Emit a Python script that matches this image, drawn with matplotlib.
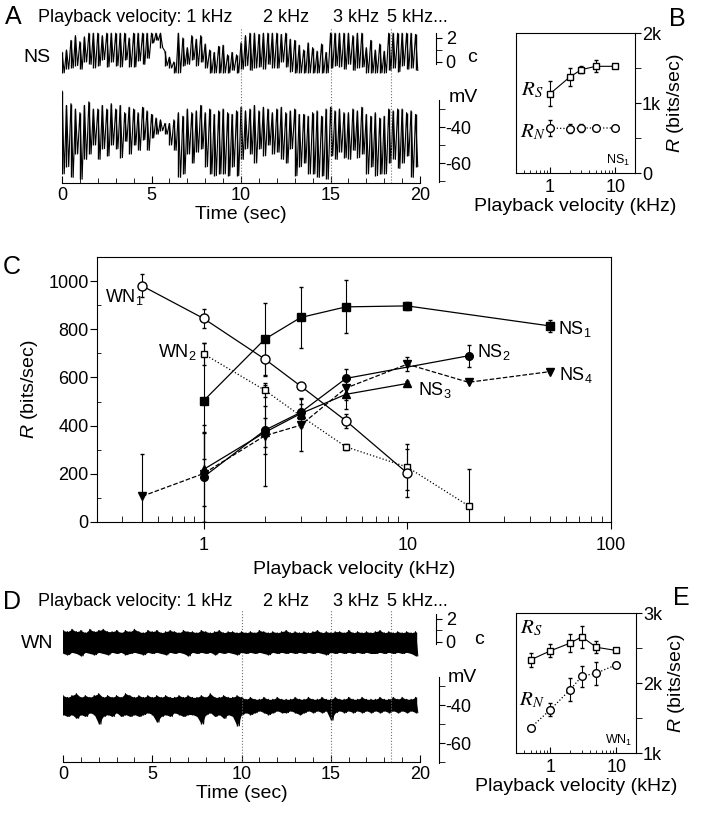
import numpy as np
import matplotlib
matplotlib.use('Agg')
import matplotlib.pyplot as plt
from matplotlib.ticker import FixedLocator, MultipleLocator, NullFormatter, LogLocator

# ---- datos: trazas (max / min por intervalo de 0.25 s) ----
BIN_SEC = 0.25
cambios_t = [10, 15, 18.4]   # cambios de velocidad de reproduccion (s)

ns_c_hi = [0.8, 1.0, 1.8, 2.2, 1.7, 2.1, 2.4, 2.4, 2.4, 2.2,
           2.4, 2.4, 2.4, 2.4, 2.4, 2.0, 2.4, 2.4, 2.4, 2.4,
           2.4, 2.4, 2.4, 0.9, 0.4, 0.0, 2.4, 2.0, 1.2, 2.2,
           1.9, 2.2, 1.5, 1.0, 0.8, 1.3, 1.4, 0.6, 0.8, 0.6,
           1.6, 2.2, 2.4, 2.4, 2.3, 2.4, 2.4, 2.4, 2.4, 2.3,
           2.4, 1.9, 1.8, 1.4, 1.0, 1.6, 1.2, 0.9, 1.5, 0.8,
           2.4, 2.4, 2.4, 2.4, 2.4, 2.2, 2.4, 2.4, 1.2, 1.8,
           1.0, 1.5, 0.9, 2.4, 2.4, 2.4, 2.4, 2.4, 2.4, 2.3]
ns_c_lo = [-0.9, -0.6, -0.5, -0.3, -0.6, 0.0, -0.2, -0.5, -0.3, 0.2,
           -0.4, 0.0, -0.3, -0.4, 0.2, -0.4, -0.4, 0.1, -0.2, 0.3,
           1.6, 1.8, 1.2, -0.3, -0.5, -0.9, -0.9, -0.3, -0.2, 0.2,
           -0.3, 0.0, -0.5, -0.9, -0.9, -0.9, -0.9, -0.9, -0.7, -0.9,
           -0.6, -0.3, -0.7, -0.5, -0.4, -0.6, -0.2, -0.5, -0.5, 0.0,
           -0.4, -0.8, -0.9, -0.9, -0.9, -0.9, -0.9, -0.9, -0.9, -0.9,
           -0.5, -0.3, -0.4, -0.6, -0.2, -0.7, -0.5, -0.4, -0.9, -0.9,
           -0.9, -0.9, -0.9, -0.7, -0.5, -0.8, -0.3, -0.6, -0.5, -0.7]
ns_mv_hi = [-20, -28, -27, -30, -32, -28, -26, -30, -30, -28,
            -30, -27, -30, -28, -32, -29, -30, -32, -29, -31,
            -33, -35, -36, -38, -38, -36, -32, -34, -30, -32,
            -31, -28, -32, -30, -33, -31, -30, -32, -33, -31,
            -29, -31, -30, -28, -31, -29, -30, -32, -30, -29,
            -32, -31, -30, -33, -33, -34, -32, -31, -34, -30,
            -29, -31, -30, -32, -32, -30, -31, -29, -33, -34,
            -32, -35, -34, -30, -31, -30, -30, -32, -31, -33]
ns_mv_lo = [-66, -62, -68, -55, -69, -58, -55, -50, -58, -52,
            -56, -50, -52, -57, -48, -55, -50, -53, -47, -53,
            -46, -44, -42, -44, -50, -53, -68, -66, -55, -60,
            -54, -52, -62, -66, -67, -66, -66, -67, -62, -67,
            -58, -52, -55, -60, -52, -56, -50, -55, -54, -58,
            -60, -52, -67, -62, -60, -66, -66, -68, -67, -69,
            -56, -58, -54, -57, -58, -53, -57, -55, -66, -62,
            -67, -66, -66, -60, -58, -63, -60, -56, -68, -62]

wn_c_hi = [1.0, 0.9, 1.1, 0.9, 1.0, 0.8, 1.1, 0.9, 1.0, 1.1,
           0.9, 0.9, 1.0, 0.8, 1.0, 0.9, 1.1, 0.9, 0.8, 1.0,
           0.9, 1.0, 0.8, 0.9, 1.0, 0.9, 0.8, 1.0, 0.9, 0.9,
           0.8, 1.0, 0.9, 0.8, 0.9, 1.0, 0.8, 0.9, 0.9, 0.8,
           0.9, 0.8, 0.9, 0.8, 1.0, 0.9, 0.8, 0.9, 0.8, 0.9,
           1.0, 0.8, 0.9, 0.8, 0.9, 0.8, 0.9, 1.0, 0.8, 0.9,
           0.8, 0.9, 0.9, 0.8, 1.0, 0.8, 0.9, 0.8, 0.9, 0.8,
           0.9, 1.0, 0.8, 0.9, 0.8, 0.9, 0.8, 0.9, 0.8, 0.9]
wn_c_lo = [-1.0, -1.1, -0.9, -1.0, -1.2, -0.9, -1.0, -1.1, -0.9, -1.0,
           -1.1, -0.9, -1.0, -0.9, -1.1, -1.0, -0.9, -1.0, -1.1, -0.9,
           -1.0, -0.9, -1.0, -1.1, -0.9, -1.0, -0.9, -1.0, -1.2, -0.9,
           -1.0, -0.9, -1.0, -0.9, -1.1, -0.9, -1.0, -0.9, -1.0, -1.1,
           -0.9, -1.0, -0.9, -1.0, -0.9, -1.0, -1.1, -0.9, -1.0, -0.9,
           -1.0, -0.9, -1.0, -0.9, -1.0, -0.9, -1.0, -0.9, -1.0, -1.1,
           -0.9, -1.0, -0.9, -1.0, -0.9, -1.0, -0.9, -1.0, -0.9, -1.0,
           -1.0, -0.9, -1.0, -0.9, -1.0, -0.9, -1.0, -0.9, -1.0, -1.2]
wn_mv_hi = [-35, -36, -35, -34, -36, -35, -36, -35, -34, -36,
            -35, -36, -35, -36, -34, -35, -36, -35, -36, -35,
            -36, -35, -36, -35, -36, -36, -35, -36, -35, -36,
            -36, -35, -36, -34, -36, -36, -35, -36, -36, -35,
            -36, -37, -36, -37, -37, -36, -37, -37, -36, -37,
            -37, -37, -36, -37, -37, -36, -37, -37, -36, -37,
            -37, -36, -37, -37, -36, -37, -37, -36, -37, -37,
            -37, -36, -37, -37, -36, -37, -36, -37, -37, -36]
wn_mv_lo = [-45, -46, -45, -47, -45, -46, -44, -45, -50, -46,
            -45, -46, -44, -46, -45, -46, -45, -46, -45, -44,
            -45, -49, -46, -45, -46, -44, -45, -46, -45, -45,
            -46, -50, -45, -44, -46, -45, -47, -45, -46, -51,
            -45, -44, -45, -44, -43, -44, -45, -44, -43, -44,
            -44, -43, -44, -45, -44, -43, -44, -43, -44, -43,
            -48, -44, -43, -44, -43, -44, -43, -44, -43, -44,
            -43, -44, -43, -44, -43, -44, -43, -44, -43, -44]

# ---- datos: tasas de informacion ----
vel_b = [1, 2, 3, 5, 10]
rs_b = [1133, 1371, 1476, 1524, 1524]
rs_b_err = [175, 135, 50, 85, 20]
rn_b = [643, 634, 643, 643, 643]
rn_b_err = [110, 65, 55, 0, 25]

vel_e = [0.5, 1, 2, 3, 5, 10]
rs_e = [2330, 2460, 2570, 2660, 2510, 2465]
rs_e_err = [95, 95, 130, 160, 85, 25]
rn_e = [1360, 1620, 1905, 2095, 2142, 2260]
rn_e_err = [20, 95, 165, 155, 165, 0]

vel_wn1 = [0.5, 1, 2, 3, 5, 10]
r_wn1 = [980, 845, 676, 564, 420, 203]
e_wn1 = [48, 40, 70, 0, 30, 100]
vel_wn2 = [1, 2, 3, 5, 10, 20]
r_wn2 = [698, 547, 440, 312, 228, 67]
e_wn2 = [45, 30, 0, 12, 97, 155]
vel_ns1 = [1, 2, 3, 5, 10, 50]
r_ns1 = [503, 759, 849, 893, 897, 814]
e_ns1 = [240, 150, 125, 110, 15, 25]
vel_ns2 = [1, 2, 3, 5, 20]
r_ns2 = [187, 381, 455, 596, 690]
e_ns2 = [185, 100, 60, 40, 45]
vel_ns3 = [1, 2, 3, 5, 10]
r_ns3 = [218, 372, 450, 530, 575]
e_ns3 = [150, 60, 40, 60, 10]
vel_ns4 = [0.5, 1, 2, 3, 5, 10, 20, 50]
r_ns4 = [107, 201, 358, 402, 556, 655, 580, 624]
e_ns4 = [175, 200, 210, 108, 50, 30, 0, 0]

plt.rcParams['font.family'] = ['Liberation Sans', 'DejaVu Sans']
plt.rcParams['mathtext.fontset'] = 'custom'
plt.rcParams['mathtext.rm'] = 'Liberation Sans'
plt.rcParams['mathtext.it'] = 'Liberation Sans:italic'
plt.rcParams['axes.unicode_minus'] = False

W, H = 708, 818
fig = plt.figure(figsize=(W / 100, H / 100), dpi=100)


def caja(x0, y0, x1, y1):
    return [x0 / W, 1 - y1 / H, (x1 - x0) / W, (y1 - y0) / H]


def texto(x, y, s, **kw):
    fig.text(x / W, 1 - y / H, s, **kw)


def dibujar_traza(ax, hi, lo, relleno):
    # max/min de cada intervalo: trazo vertical + zigzag entre intervalos
    t = np.arange(len(hi)) * BIN_SEC
    if relleno:
        ax.fill_between(t, lo, hi, color='black', lw=0)
    ax.vlines(t, lo, hi, color='black', lw=1.0)
    tt = np.column_stack([t, t + BIN_SEC / 2]).ravel()
    yy = np.column_stack([hi, lo]).ravel()
    ax.plot(tt, yy, color='black', lw=0.8)


def panel_trazas(box, c_hi, c_lo, mv_hi, mv_lo, nombre, c_lim, mv_lim, y_hdr, y_nom, relleno):
    ax = fig.add_axes(box)
    axc = ax.twinx()

    dibujar_traza(ax, mv_hi, mv_lo, relleno)
    ax.set_xlim(0, 20)
    ax.set_ylim(mv_lim)
    for tc in cambios_t:
        ax.axvline(tc, color='0.45', ls=':', lw=0.8)
    for s in ['top', 'left']:
        ax.spines[s].set_visible(False)
    ax.yaxis.tick_right()
    ax.spines['right'].set_position(('outward', 13.5))
    ax.spines['right'].set_bounds(-70.5, -25)
    ax.yaxis.set_major_locator(FixedLocator([-40, -60]))
    ax.yaxis.set_minor_locator(FixedLocator([-30, -50, -70]))
    ax.tick_params(axis='y', which='both', direction='out', length=4, labelsize=13, pad=1)
    ax.xaxis.set_major_locator(FixedLocator([0, 5, 10, 15, 20]))
    ax.xaxis.set_minor_locator(MultipleLocator(1))
    ax.tick_params(axis='x', which='major', direction='in', length=5, labelsize=13, pad=3)
    ax.tick_params(axis='x', which='minor', direction='in', length=3.5)
    ax.set_xlabel('Time (sec)', fontsize=14, labelpad=1)

    dibujar_traza(axc, c_hi, c_lo, relleno)
    axc.set_ylim(c_lim)
    for s in ['top', 'left', 'bottom']:
        axc.spines[s].set_visible(False)
    axc.spines['right'].set_position(('outward', 11.5))
    axc.spines['right'].set_bounds(-0.15, 2.4)
    axc.yaxis.set_major_locator(FixedLocator([0, 2]))
    axc.yaxis.set_minor_locator(FixedLocator([1]))
    axc.tick_params(axis='y', which='both', direction='out', length=4, labelsize=13, pad=3)

    texto(37, y_nom, nombre, fontsize=14, ha='center', va='center')
    texto(38, y_hdr, 'Playback velocity: 1 kHz', fontsize=13, va='center')
    texto(263, y_hdr, '2 kHz', fontsize=13, va='center')
    texto(333, y_hdr, '3 kHz', fontsize=13, va='center')
    texto(387, y_hdr, '5 kHz...', fontsize=13, va='center')
    return ax, axc


def panel_tasas(box, vel, rs, rs_err, rn, rn_err, ylim, mayores, menores, etiquetas, tag, pos_rs, pos_rn):
    ax = fig.add_axes(box)
    ax.set_xscale('log')
    ax.errorbar(vel, rs, yerr=rs_err, fmt='s-', color='black', mfc='white', ms=5,
                lw=0.8, elinewidth=0.8, capsize=1.5)
    ax.errorbar(vel, rn, yerr=rn_err, fmt='o:', color='black', mfc='white', ms=5.5,
                lw=0.9, elinewidth=0.8, capsize=1.5)
    ax.set_xlim(0.3, 20)
    ax.set_ylim(ylim)
    ax.yaxis.tick_right()
    ax.yaxis.set_label_position('right')
    ax.yaxis.set_major_locator(FixedLocator(mayores))
    ax.yaxis.set_minor_locator(FixedLocator(menores))
    ax.set_yticklabels(etiquetas)
    ax.tick_params(axis='y', which='both', direction='out', length=4, labelsize=13, pad=1)
    ax.xaxis.set_major_locator(FixedLocator([1, 10]))
    ax.xaxis.set_minor_locator(LogLocator(base=10, subs=np.arange(2, 10)))
    ax.xaxis.set_minor_formatter(NullFormatter())
    ax.set_xticklabels(['1', '10'])
    ax.tick_params(axis='x', which='major', direction='in', length=4, labelsize=13, pad=4)
    ax.tick_params(axis='x', which='minor', direction='in', length=2.5)
    ax.set_xlabel('Playback velocity (kHz)', fontsize=14, labelpad=2)
    ax.set_ylabel('$R$ (bits/sec)', fontsize=14, labelpad=3)
    ax.text(pos_rs[0], pos_rs[1], '$R_S$', transform=ax.transAxes, fontsize=15,
            math_fontfamily='stix', ha='center', va='center')
    ax.text(pos_rn[0], pos_rn[1], '$R_N$', transform=ax.transAxes, fontsize=15,
            math_fontfamily='stix', ha='center', va='center')
    ax.text(0.86, 0.09, tag, transform=ax.transAxes, fontsize=9, ha='center', va='center')
    return ax


# ---- A ----
panel_trazas(caja(62, 28, 420, 183), ns_c_hi, ns_c_lo, ns_mv_hi, ns_mv_lo, 'NS',
             (-10.08, 2.83), (-71.1, 15.0), 17, 57, False)
texto(463, 98, 'mV', fontsize=14, ha='center', va='center')
texto(472, 57, 'c', fontsize=14, ha='center', va='center')

# ---- B ----
panel_tasas(caja(516, 33, 635, 173), vel_b, rs_b, rs_b_err, rn_b, rn_b_err, (0, 2000),
            [0, 1000, 2000], [500, 1500], ['0', '1k', '2k'], 'NS$_1$', (0.14, 0.59), (0.14, 0.29))

# ---- C ----
axc = fig.add_axes(caja(97, 257, 611, 522))
axc.set_xscale('log')
kw = dict(color='black', lw=0.9, elinewidth=0.8, capsize=1.5)
axc.errorbar(vel_wn2, r_wn2, yerr=e_wn2, fmt='s:', mfc='white', ms=4.5, **kw)
axc.errorbar(vel_wn1, r_wn1, yerr=e_wn1, fmt='o-', mfc='white', ms=6.5, **kw)
axc.errorbar(vel_ns4, r_ns4, yerr=e_ns4, fmt='v--', ms=6, **kw)
axc.errorbar(vel_ns3, r_ns3, yerr=e_ns3, fmt='^-', ms=6, **kw)
axc.errorbar(vel_ns2, r_ns2, yerr=e_ns2, fmt='o-', ms=5.5, **kw)
axc.errorbar(vel_ns1, r_ns1, yerr=e_ns1, fmt='s-', ms=5.5, **kw)
axc.set_xlim(0.3, 100)
axc.set_ylim(0, 1100)
axc.yaxis.set_major_locator(MultipleLocator(200))
axc.yaxis.set_minor_locator(MultipleLocator(100))
axc.tick_params(axis='y', which='major', direction='out', length=5, labelsize=13, pad=1)
axc.tick_params(axis='y', which='minor', direction='in', length=3)
axc.xaxis.set_major_locator(FixedLocator([1, 10, 100]))
axc.xaxis.set_minor_locator(LogLocator(base=10, subs=np.arange(2, 10)))
axc.xaxis.set_minor_formatter(NullFormatter())
axc.set_xticklabels(['1', '10', '100'])
axc.tick_params(axis='x', which='major', direction='out', length=5, labelsize=13, pad=6)
axc.tick_params(axis='x', which='minor', direction='in', length=4)
axc.set_xlabel('Playback velocity (kHz)', fontsize=14, labelpad=5)
axc.set_ylabel('$R$ (bits/sec)', fontsize=14, labelpad=6)
axc.text(0.327, 932, 'WN$_1$', fontsize=13, ha='left', va='center')
axc.text(0.595, 706, 'WN$_2$', fontsize=13, ha='left', va='center')
axc.text(55, 803, 'NS$_1$', fontsize=13, ha='left', va='center')
axc.text(22, 706, 'NS$_2$', fontsize=13, ha='left', va='center')
axc.text(11.3, 547, 'NS$_3$', fontsize=13, ha='left', va='center')
axc.text(55.6, 609, 'NS$_4$', fontsize=13, ha='left', va='center')

# ---- D ----
panel_trazas(caja(63, 610, 420, 762), wn_c_hi, wn_c_lo, wn_mv_hi, wn_mv_lo, 'WN',
             (-10.43, 2.78), (-70.0, 10.0), 602, 643, True)
texto(462, 677, 'mV', fontsize=14, ha='center', va='center')
texto(479, 640, 'c', fontsize=14, ha='center', va='center')

# ---- E ----
panel_tasas(caja(516, 613, 636, 753), vel_e, rs_e, rs_e_err, rn_e, rn_e_err, (1000, 3000),
            [1000, 2000, 3000], [1500, 2500], ['1k', '2k', '3k'], 'WN$_1$', (0.13, 0.89), (0.13, 0.38))

# letras de panel
for letra, x, y in [('A', 13, 17), ('B', 677, 19), ('C', 12, 267), ('D', 12, 602), ('E', 681, 598)]:
    texto(x, y, letra, fontsize=18, ha='center', va='center')

fig.savefig('out.png', dpi=100)
